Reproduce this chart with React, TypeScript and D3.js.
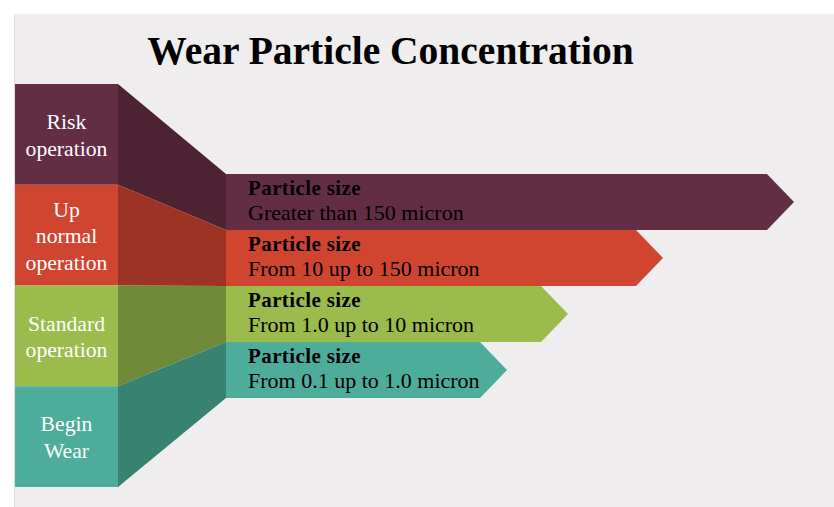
import React from "react";
import * as d3 from "d3";

const title = "Wear Particle Concentration";
const stages = [["Risk", "operation"], ["Up", "normal", "operation"], ["Standard", "operation"], ["Begin", "Wear"]];
const sizeHeader = "Particle size";
const sizeRanges = ["Greater than 150 micron", "From 10 up to 150 micron", "From 1.0 up to 10 micron", "From 0.1 up to 1.0 micron"];
const arrowReach = [568, 437, 342, 281];
const mainColors = ["#632e44", "#d04530", "#9bbb4c", "#4dac9a"];
const shadeColors = ["#4d2232", "#9c3325", "#6f8a38", "#388272"];

const W = 834, H = 507;

export default function App() {
  const idx = stages.map((_, i) => i);
  const yLeft = d3.scaleBand<number>().domain(idx).range([84, 487]).padding(0);
  const yArrow = d3.scaleBand<number>().domain(idx).range([174, 398]).padding(0);
  const x = d3.scaleLinear().domain([0, 600]).range([226, 826]);
  const blockX0 = 15, blockX1 = 118, arrowX0 = x(0);
  const tipDepth = yArrow.bandwidth() / 2 - 1;
  const line = d3.line();

  return (
    <svg width={W} height={H} style={{ position: "absolute", left: 0, top: 0 }} fontFamily="'Liberation Serif', 'Times New Roman', serif">
      <rect x={0} y={0} width={W} height={H} fill="#ffffff" />
      <rect x={14} y={14} width={W - 14} height={H - 14} fill="#efeded" />
      <line x1={14.5} y1={14} x2={14.5} y2={H} stroke="#e2e0e0" />
      <text x={390.5} y={64} textAnchor="middle" fontSize={39.5} fontWeight="bold" fill="#000">{title}</text>
      {idx.map(i => {
        const ly0 = yLeft(i)!, ly1 = ly0 + yLeft.bandwidth();
        const ay0 = yArrow(i)!, ay1 = ay0 + yArrow.bandwidth();
        const end = x(arrowReach[i]);
        const mid = (ay0 + ay1) / 2;
        const conn = line([[blockX1, ly0], [arrowX0, ay0], [arrowX0, ay1], [blockX1, ly1]])! + "Z";
        const arrow = line([[arrowX0, ay0], [end - tipDepth, ay0], [end, mid], [end - tipDepth, ay1], [arrowX0, ay1]])! + "Z";
        const n = stages[i].length;
        const cy = (ly0 + ly1) / 2;
        return (
          <g key={i}>
            <path d={conn} fill={shadeColors[i]} />
            <rect x={blockX0} y={ly0} width={blockX1 - blockX0} height={yLeft.bandwidth()} fill={mainColors[i]} />
            <path d={arrow} fill={mainColors[i]} />
            {stages[i].map((t, j) => (
              <text key={j} x={(blockX0 + blockX1) / 2} y={cy + (j - (n - 1) / 2) * 26.5 + 8} textAnchor="middle" fontSize={21.7} fill="#ffffff">{t}</text>
            ))}
            <text x={248} y={ay0 + 21} fontSize={21} fontWeight="bold" letterSpacing={0.4} fill="#000">{sizeHeader}</text>
            <text x={248} y={ay0 + 45.5} fontSize={22} fill="#000">{sizeRanges[i]}</text>
          </g>
        );
      })}
    </svg>
  );
}
